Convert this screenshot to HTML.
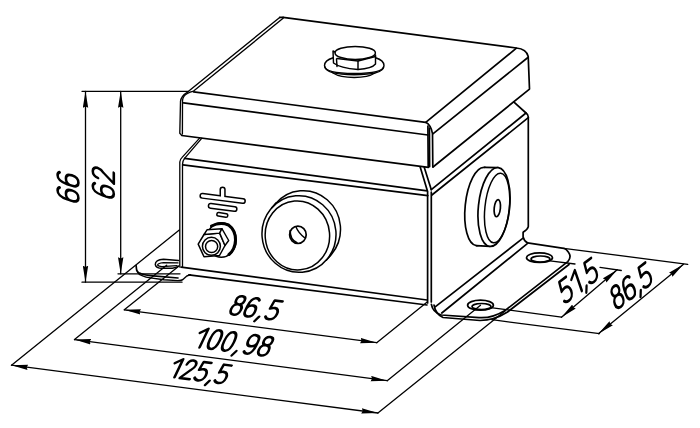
<!DOCTYPE html>
<html><head><meta charset="utf-8">
<style>
html,body{margin:0;padding:0;background:#fff;width:700px;height:428px;overflow:hidden}
svg{display:block}
.l{fill:none;stroke:#000;stroke-width:1.7;stroke-linecap:round;stroke-linejoin:round}
.t{stroke-width:1.3}
.w{fill:#fff}
.a{fill:#000;stroke:none}
text{font-family:"Liberation Sans",sans-serif;font-style:italic;fill:#000}
</style></head><body>
<svg width="700" height="428" viewBox="0 0 700 428">
<g class="l">
<!-- ===== LID ===== -->
<path d="M283.1 17.4 L516.4 48 Q526.5 49 528.2 56.4 L529.5 89.1 L433 167"/>
<path d="M279.7 17.4 L283.1 17.4"/>
<path d="M279.7 17.4 L187.9 91.8 Q181 96 180.5 101.4 L179.8 133.2 L181.7 135.4" stroke-width="1.35"/>
<path d="M283.1 18.3 L193.6 91.1 Q186 93 183.9 96.4 Q182.5 98.5 182.5 100.7 L182.4 134" stroke-width="1.35"/>
<path d="M193.6 91.8 L425.7 122.3"/>
<path d="M183.6 102.9 L427.9 135"/>
<path d="M181.7 135.5 L428.4 167.4"/>
<path d="M516.4 48.2 L425.7 122.3 Q431 125 432.5 133.6 L432.8 166.8"/>
<path d="M527.9 57.5 L433.2 133.6"/>
<path d="M427.9 126 L428.2 166.6"/>
<path d="M429.4 128 L429.6 166.6"/>
<!-- ===== BOLT ===== -->
<g stroke-width="1.45">
<ellipse cx="355.2" cy="52.9" rx="20.2" ry="6.5"/>
<path d="M335 52 L333 51 L333.5 63 Q340 68 358 69.5 Q372 68.5 375.5 64 L375.5 55"/>
<path d="M337 58.5 L358 61 L375.5 56.5"/>
<path d="M358 61 L358 69.5"/>
<path d="M336.5 59 L337 66.5"/>
<path d="M333.2 57.8 Q324.5 60.5 324.5 65.5 Q324.5 73.5 354.2 73.5 Q384 73.5 384 65.5 Q384 60.5 375.6 57.8"/>
<path d="M325 67 Q326 74.5 354.2 74.8 Q383 74.5 383.5 67"/>
<path d="M333 73 Q340 77.5 354.2 77.5 Q368 77.5 375 73"/>
</g>
<!-- ===== BOX BODY ===== -->
<path d="M199.6 138.1 L182.1 157.4 Q179.9 159.5 179.8 162 L179.8 267" stroke-width="1.3"/>
<path d="M201.7 138.3 L184.8 158.2 Q182.7 160.7 182.5 164.2 L182.5 267" stroke-width="1.3"/>
<path d="M184.6 158.4 L427.2 190.8"/>
<path d="M182.9 164.9 L427.8 195.6"/>
<path d="M420.2 167 L427.2 190.3 M427.6 191 L427.6 303"/>
<path d="M424.3 167.5 L431.3 189.7 M431.3 192 L431.3 302"/>
<path d="M181.1 267.2 L427 300"/>
<path d="M188.9 274.9 L427 305"/>
<!-- right face -->
<path d="M431.3 189.7 L526 113 Q528.3 114.5 528.3 117 L528.3 226.6 Q527.5 229.8 523.1 232.3 L523.1 237 Q524 241 527.5 242.8"/>
<path d="M431.9 195 L528.3 117.7"/>
<path d="M513.7 101.9 L526 113"/>
<path d="M435.5 306.7 L522.7 238.4"/>
<path d="M441.8 313 L527 243.9"/>
<!-- right flange -->
<path d="M431.4 304.3 Q432.5 312 441.4 315 L479 317.6 Q492 318.5 505.5 310.2 L567.8 261.6 Q572 257 568.3 252 Q566.5 249.2 563.8 248.3 L527.5 242.8"/>
<path d="M434 305 Q435.5 314 443 317.5 L480 320.5 Q494 320.5 507.5 312 L569 264.5"/>
<ellipse cx="480.5" cy="305.2" rx="12.9" ry="5"/>
<ellipse cx="481.5" cy="306.5" rx="9.5" ry="3"/>
<ellipse cx="539.5" cy="257.7" rx="13" ry="4.8"/>
<ellipse cx="540.5" cy="259" rx="9.5" ry="3"/>
<!-- left flange -->
<path d="M136.1 265.5 L136.6 270 Q137.5 273 141.1 273.7 Q146 275.2 150.3 275.6 L178 278"/>
<path d="M137.5 271.9 Q139 275 142 275.6 Q146 277.3 150.3 277.9 L164 279.7 L177.7 280.6 Q182 280.5 183.2 279.2 L186.8 276 L190.5 274.7" stroke-width="1.4"/>
<path d="M178.5 260.4 L163.5 259.3 Q155 259.8 155.3 264.6 Q156 268.3 162 268.3 L172.4 268.3 Q176.5 267.8 178.6 266" stroke-width="1.5"/>
<path d="M178 262.9 L163.5 262.7 Q157.5 263.3 157.6 265.2 Q158.5 266.6 162 266.6 L177 265.7" stroke-width="1.3"/>

<!-- ===== GROUND SYMBOL ===== -->
<g stroke-width="6.2" stroke-linecap="round">
<path d="M222.6 189.5 L222.6 196"/>
<path d="M202.5 195.8 L242.8 201"/>
<path d="M210.8 205.9 L234.5 209"/>
<path d="M218.6 214.3 L226 215.5" stroke-width="5"/>
</g>
<g stroke-width="3.2" stroke-linecap="round" stroke="#fff">
<path d="M222.6 189.5 L222.6 197"/>
<path d="M202.5 195.8 L242.8 201"/>
<path d="M210.8 205.9 L234.5 209"/>
<path d="M218.6 214.3 L226 215.5" stroke-width="2"/>
</g>

<!-- ===== SMALL GLAND ===== -->
<ellipse cx="221.3" cy="240" rx="14.9" ry="17.3" class="w" stroke-width="1.5"/>
<path d="M211.5 226 Q220 221.5 228.5 225 Q235.5 230 235.5 240 Q235 249.5 229 254.5" stroke-width="3"/>
<path d="M198.2 244.1 L204 234.5 L219.7 233.1 L225 245.5 L219.5 255.5 L204 256.8 Z" class="w" stroke-width="1.5"/>
<path d="M204 234.5 L207 229.8 L221.9 228.7 L219.7 233.1 Z" class="w" stroke-width="1.4"/>
<path d="M219.7 233.1 L221.9 228.7 L228.7 240.5 L225 245.5 Z" class="w" stroke-width="1.4"/>
<circle cx="211.4" cy="246.3" r="9" stroke-width="1.5"/>
<circle cx="211.6" cy="246.5" r="6.1" stroke-width="1.5"/>

<!-- ===== BIG DISC ===== -->
<ellipse cx="303.5" cy="229" rx="37" ry="38.3" transform="rotate(-5 303.5 229)" class="w" stroke-width="1.5"/>
<path d="M276.3 202.9 L271.8 207.9 L326.2 260.1 L330.7 255.1 Z" fill="#fff" stroke="none"/>
<path d="M276.3 202.9 L271.8 207.9 M330.7 255.1 L326.2 260.1"/>
<ellipse cx="299" cy="234" rx="37" ry="38.3" transform="rotate(-5 299 234)" class="w" stroke-width="1.5"/>
<ellipse cx="297.4" cy="235.4" rx="32.2" ry="34.5" transform="rotate(-5 297.4 235.4)" stroke-width="1.5"/>
<ellipse cx="297.9" cy="234.8" rx="8.3" ry="8.7"/>
<path d="M295.8 226.6 Q298.5 233.5 304.8 237.8" stroke-width="1.4"/>
<path d="M290.2 230.5 Q289.8 239.5 297 242.8" stroke-width="1.6"/>

<!-- ===== RIGHT DISC ===== -->
<ellipse cx="480.5" cy="206.5" rx="15.3" ry="39.3" transform="rotate(6 480.5 206.5)" class="w"/>
<path d="M484.6 167.4 L498.1 167.6 L489.9 246.4 L476.4 245.6 Z" fill="#fff" stroke="none"/>
<path d="M484.6 167.4 L498.1 167.6 M476.4 245.6 L489.9 246.4"/>
<ellipse cx="494" cy="207" rx="15.6" ry="39.6" transform="rotate(6 494 207)" class="w"/>
<ellipse cx="497.1" cy="208" rx="12.2" ry="35" transform="rotate(6 497.1 208)" stroke-width="1.5"/>
<ellipse cx="497.3" cy="208.2" rx="3.1" ry="8.6" transform="rotate(6 497.3 208.2)"/>
</g>

<!-- ===== DIMENSIONS ===== -->
<defs>
<marker id="ar" viewBox="0 0 16.5 6" refX="16.5" refY="3" markerWidth="16.5" markerHeight="6" orient="auto-start-reverse" markerUnits="userSpaceOnUse"><path d="M0 0.3 L16.5 3 L0 5.7 L1.2 3 Z" fill="#000"/></marker>
</defs>
<g class="l t">
<!-- extension lines -->
<path d="M82 91.3 L188 91.3"/>
<path d="M82 282.2 L182 282.2"/>
<path d="M118 273.8 L180 273.8"/>
<path d="M11.5 365.2 L179.3 230"/>
<path d="M377.9 413 L505 311"/>
<path d="M74.5 339.6 L166.7 265.2"/>
<path d="M387.2 380.7 L480.5 305.2"/>
<path d="M124.3 309.8 L178.4 266.4"/>
<path d="M376.7 342.7 L427.2 302"/>
<path d="M490.8 307.6 L561.5 317.2"/>
<path d="M550 260.8 L575 264"/>
<path d="M600 267.3 L621.3 270.5"/>
<path d="M563.8 248.3 L687.7 264.3"/>
<path d="M491.8 319.7 L599.5 333.7"/>
</g>
<g class="l t" marker-start="url(#ar)" marker-end="url(#ar)">
<path d="M85.5 91.3 L85.5 282.2"/>
<path d="M120.7 91.3 L120.7 273.8"/>
<path d="M11.5 365.2 L377.9 413"/>
<path d="M74.5 339.6 L387.2 380.7"/>
<path d="M124.3 309.8 L376.7 342.7"/>
<path d="M561.5 317.2 L617.2 269.7"/>
<path d="M598.4 333.7 L683.5 264.3"/>
</g>
<!-- texts -->
<g id="t66"><g transform="translate(78.4,203.0) rotate(-90) skewX(-18) scale(2.08)" fill="none" stroke="#000" stroke-width="1.250" stroke-linecap="round" stroke-linejoin="round"><path transform="translate(0.00,0)" d="M4.6 -9 C4.2 -9.7 3.5 -10 2.7 -10 C1 -10 0.1 -8.5 0 -5.5 L0 -3 C0 -1.1 1 0 2.5 0 C4 0 5 -1.1 5 -3 C5 -4.9 4 -6 2.5 -6 C1.2 -6 0.3 -5.2 0 -4"/><path transform="translate(7.30,0)" d="M4.6 -9 C4.2 -9.7 3.5 -10 2.7 -10 C1 -10 0.1 -8.5 0 -5.5 L0 -3 C0 -1.1 1 0 2.5 0 C4 0 5 -1.1 5 -3 C5 -4.9 4 -6 2.5 -6 C1.2 -6 0.3 -5.2 0 -4"/></g></g>
<g id="t62"><g transform="translate(113.8,199.0) rotate(-90) skewX(-18) scale(2.1)" fill="none" stroke="#000" stroke-width="1.238" stroke-linecap="round" stroke-linejoin="round"><path transform="translate(0.00,0)" d="M4.6 -9 C4.2 -9.7 3.5 -10 2.7 -10 C1 -10 0.1 -8.5 0 -5.5 L0 -3 C0 -1.1 1 0 2.5 0 C4 0 5 -1.1 5 -3 C5 -4.9 4 -6 2.5 -6 C1.2 -6 0.3 -5.2 0 -4"/><path transform="translate(7.30,0)" d="M0.3 -7.5 C0.5 -9.2 1.5 -10 2.6 -10 C4 -10 5 -9.1 5 -7.7 C5 -6.6 4.4 -5.7 3.5 -4.8 L0 0 L5.2 0"/></g></g>
<g id="t86b"><g transform="translate(228.8,314.0) rotate(7.5) skewX(-18) scale(1.93)" fill="none" stroke="#000" stroke-width="1.347" stroke-linecap="round" stroke-linejoin="round"><path transform="translate(0.00,0)" d="M2.5 -5.6 C1.2 -5.6 0.35 -6.5 0.35 -7.8 C0.35 -9.1 1.2 -10 2.5 -10 C3.8 -10 4.65 -9.1 4.65 -7.8 C4.65 -6.5 3.8 -5.6 2.5 -5.6 C1 -5.6 0 -4.6 0 -2.8 C0 -1.1 1 0 2.5 0 C4 0 5 -1.1 5 -2.8 C5 -4.6 4 -5.6 2.5 -5.6 Z"/><path transform="translate(7.30,0)" d="M4.6 -9 C4.2 -9.7 3.5 -10 2.7 -10 C1 -10 0.1 -8.5 0 -5.5 L0 -3 C0 -1.1 1 0 2.5 0 C4 0 5 -1.1 5 -3 C5 -4.9 4 -6 2.5 -6 C1.2 -6 0.3 -5.2 0 -4"/><path transform="translate(14.60,0)" d="M0.9 -0.6 L-0.3 1.9"/><path transform="translate(18.60,0)" d="M4.9 -10 L0.8 -10 L0.4 -5.6 C1.1 -6 1.9 -6.2 2.6 -6.2 C4.1 -6.2 5.1 -5 5.1 -3.1 C5.1 -1.2 4 0 2.4 0 C1.3 0 0.5 -0.4 0 -1.2"/></g></g>
<g id="t100"><g transform="translate(193.4,346.6) rotate(7.5) skewX(-18) scale(1.95)" fill="none" stroke="#000" stroke-width="1.333" stroke-linecap="round" stroke-linejoin="round"><path transform="translate(0.00,0)" d="M0 -7.4 L3.2 -10 L3.2 0"/><path transform="translate(6.40,0)" d="M2.5 -10 C4.4 -10 5 -8 5 -5 C5 -2 4.4 0 2.5 0 C0.6 0 0 -2 0 -5 C0 -8 0.6 -10 2.5 -10 Z"/><path transform="translate(13.70,0)" d="M2.5 -10 C4.4 -10 5 -8 5 -5 C5 -2 4.4 0 2.5 0 C0.6 0 0 -2 0 -5 C0 -8 0.6 -10 2.5 -10 Z"/><path transform="translate(21.00,0)" d="M0.9 -0.6 L-0.3 1.9"/><path transform="translate(25.30,0)" d="M0.4 -1 C0.8 -0.3 1.5 0 2.3 0 C4 0 4.9 -1.5 5 -4.5 L5 -7 C5 -8.9 4 -10 2.5 -10 C1 -10 0 -8.9 0 -7 C0 -5.1 1 -4 2.5 -4 C3.8 -4 4.7 -4.8 5 -6"/><path transform="translate(32.60,0)" d="M2.5 -5.6 C1.2 -5.6 0.35 -6.5 0.35 -7.8 C0.35 -9.1 1.2 -10 2.5 -10 C3.8 -10 4.65 -9.1 4.65 -7.8 C4.65 -6.5 3.8 -5.6 2.5 -5.6 C1 -5.6 0 -4.6 0 -2.8 C0 -1.1 1 0 2.5 0 C4 0 5 -1.1 5 -2.8 C5 -4.6 4 -5.6 2.5 -5.6 Z"/></g></g>
<g id="t125"><g transform="translate(168.5,376.5) rotate(7.5) skewX(-18) scale(1.9)" fill="none" stroke="#000" stroke-width="1.368" stroke-linecap="round" stroke-linejoin="round"><path transform="translate(0.00,0)" d="M0 -7.4 L3.2 -10 L3.2 0"/><path transform="translate(6.00,0)" d="M0.3 -7.5 C0.5 -9.2 1.5 -10 2.6 -10 C4 -10 5 -9.1 5 -7.7 C5 -6.6 4.4 -5.7 3.5 -4.8 L0 0 L5.2 0"/><path transform="translate(13.30,0)" d="M4.9 -10 L0.8 -10 L0.4 -5.6 C1.1 -6 1.9 -6.2 2.6 -6.2 C4.1 -6.2 5.1 -5 5.1 -3.1 C5.1 -1.2 4 0 2.4 0 C1.3 0 0.5 -0.4 0 -1.2"/><path transform="translate(20.60,0)" d="M0.9 -0.6 L-0.3 1.9"/><path transform="translate(24.00,0)" d="M4.9 -10 L0.8 -10 L0.4 -5.6 C1.1 -6 1.9 -6.2 2.6 -6.2 C4.1 -6.2 5.1 -5 5.1 -3.1 C5.1 -1.2 4 0 2.4 0 C1.3 0 0.5 -0.4 0 -1.2"/></g></g>
<g id="t51"><g transform="translate(565.0,303.6) rotate(-37) skewX(-18) scale(2.07)" fill="none" stroke="#000" stroke-width="1.256" stroke-linecap="round" stroke-linejoin="round"><path transform="translate(0.00,0)" d="M4.9 -10 L0.8 -10 L0.4 -5.6 C1.1 -6 1.9 -6.2 2.6 -6.2 C4.1 -6.2 5.1 -5 5.1 -3.1 C5.1 -1.2 4 0 2.4 0 C1.3 0 0.5 -0.4 0 -1.2"/><path transform="translate(7.00,0)" d="M0 -7.4 L3.2 -10 L3.2 0"/><path transform="translate(12.40,0)" d="M0.9 -0.6 L-0.3 1.9"/><path transform="translate(15.20,0)" d="M4.9 -10 L0.8 -10 L0.4 -5.6 C1.1 -6 1.9 -6.2 2.6 -6.2 C4.1 -6.2 5.1 -5 5.1 -3.1 C5.1 -1.2 4 0 2.4 0 C1.3 0 0.5 -0.4 0 -1.2"/></g></g>
<g id="t86r"><g transform="translate(616.8,309.8) rotate(-37) skewX(-18) scale(2.05)" fill="none" stroke="#000" stroke-width="1.268" stroke-linecap="round" stroke-linejoin="round"><path transform="translate(0.00,0)" d="M2.5 -5.6 C1.2 -5.6 0.35 -6.5 0.35 -7.8 C0.35 -9.1 1.2 -10 2.5 -10 C3.8 -10 4.65 -9.1 4.65 -7.8 C4.65 -6.5 3.8 -5.6 2.5 -5.6 C1 -5.6 0 -4.6 0 -2.8 C0 -1.1 1 0 2.5 0 C4 0 5 -1.1 5 -2.8 C5 -4.6 4 -5.6 2.5 -5.6 Z"/><path transform="translate(7.00,0)" d="M4.6 -9 C4.2 -9.7 3.5 -10 2.7 -10 C1 -10 0.1 -8.5 0 -5.5 L0 -3 C0 -1.1 1 0 2.5 0 C4 0 5 -1.1 5 -3 C5 -4.9 4 -6 2.5 -6 C1.2 -6 0.3 -5.2 0 -4"/><path transform="translate(14.00,0)" d="M0.9 -0.6 L-0.3 1.9"/><path transform="translate(16.80,0)" d="M4.9 -10 L0.8 -10 L0.4 -5.6 C1.1 -6 1.9 -6.2 2.6 -6.2 C4.1 -6.2 5.1 -5 5.1 -3.1 C5.1 -1.2 4 0 2.4 0 C1.3 0 0.5 -0.4 0 -1.2"/></g></g>
</svg>
</body></html>
